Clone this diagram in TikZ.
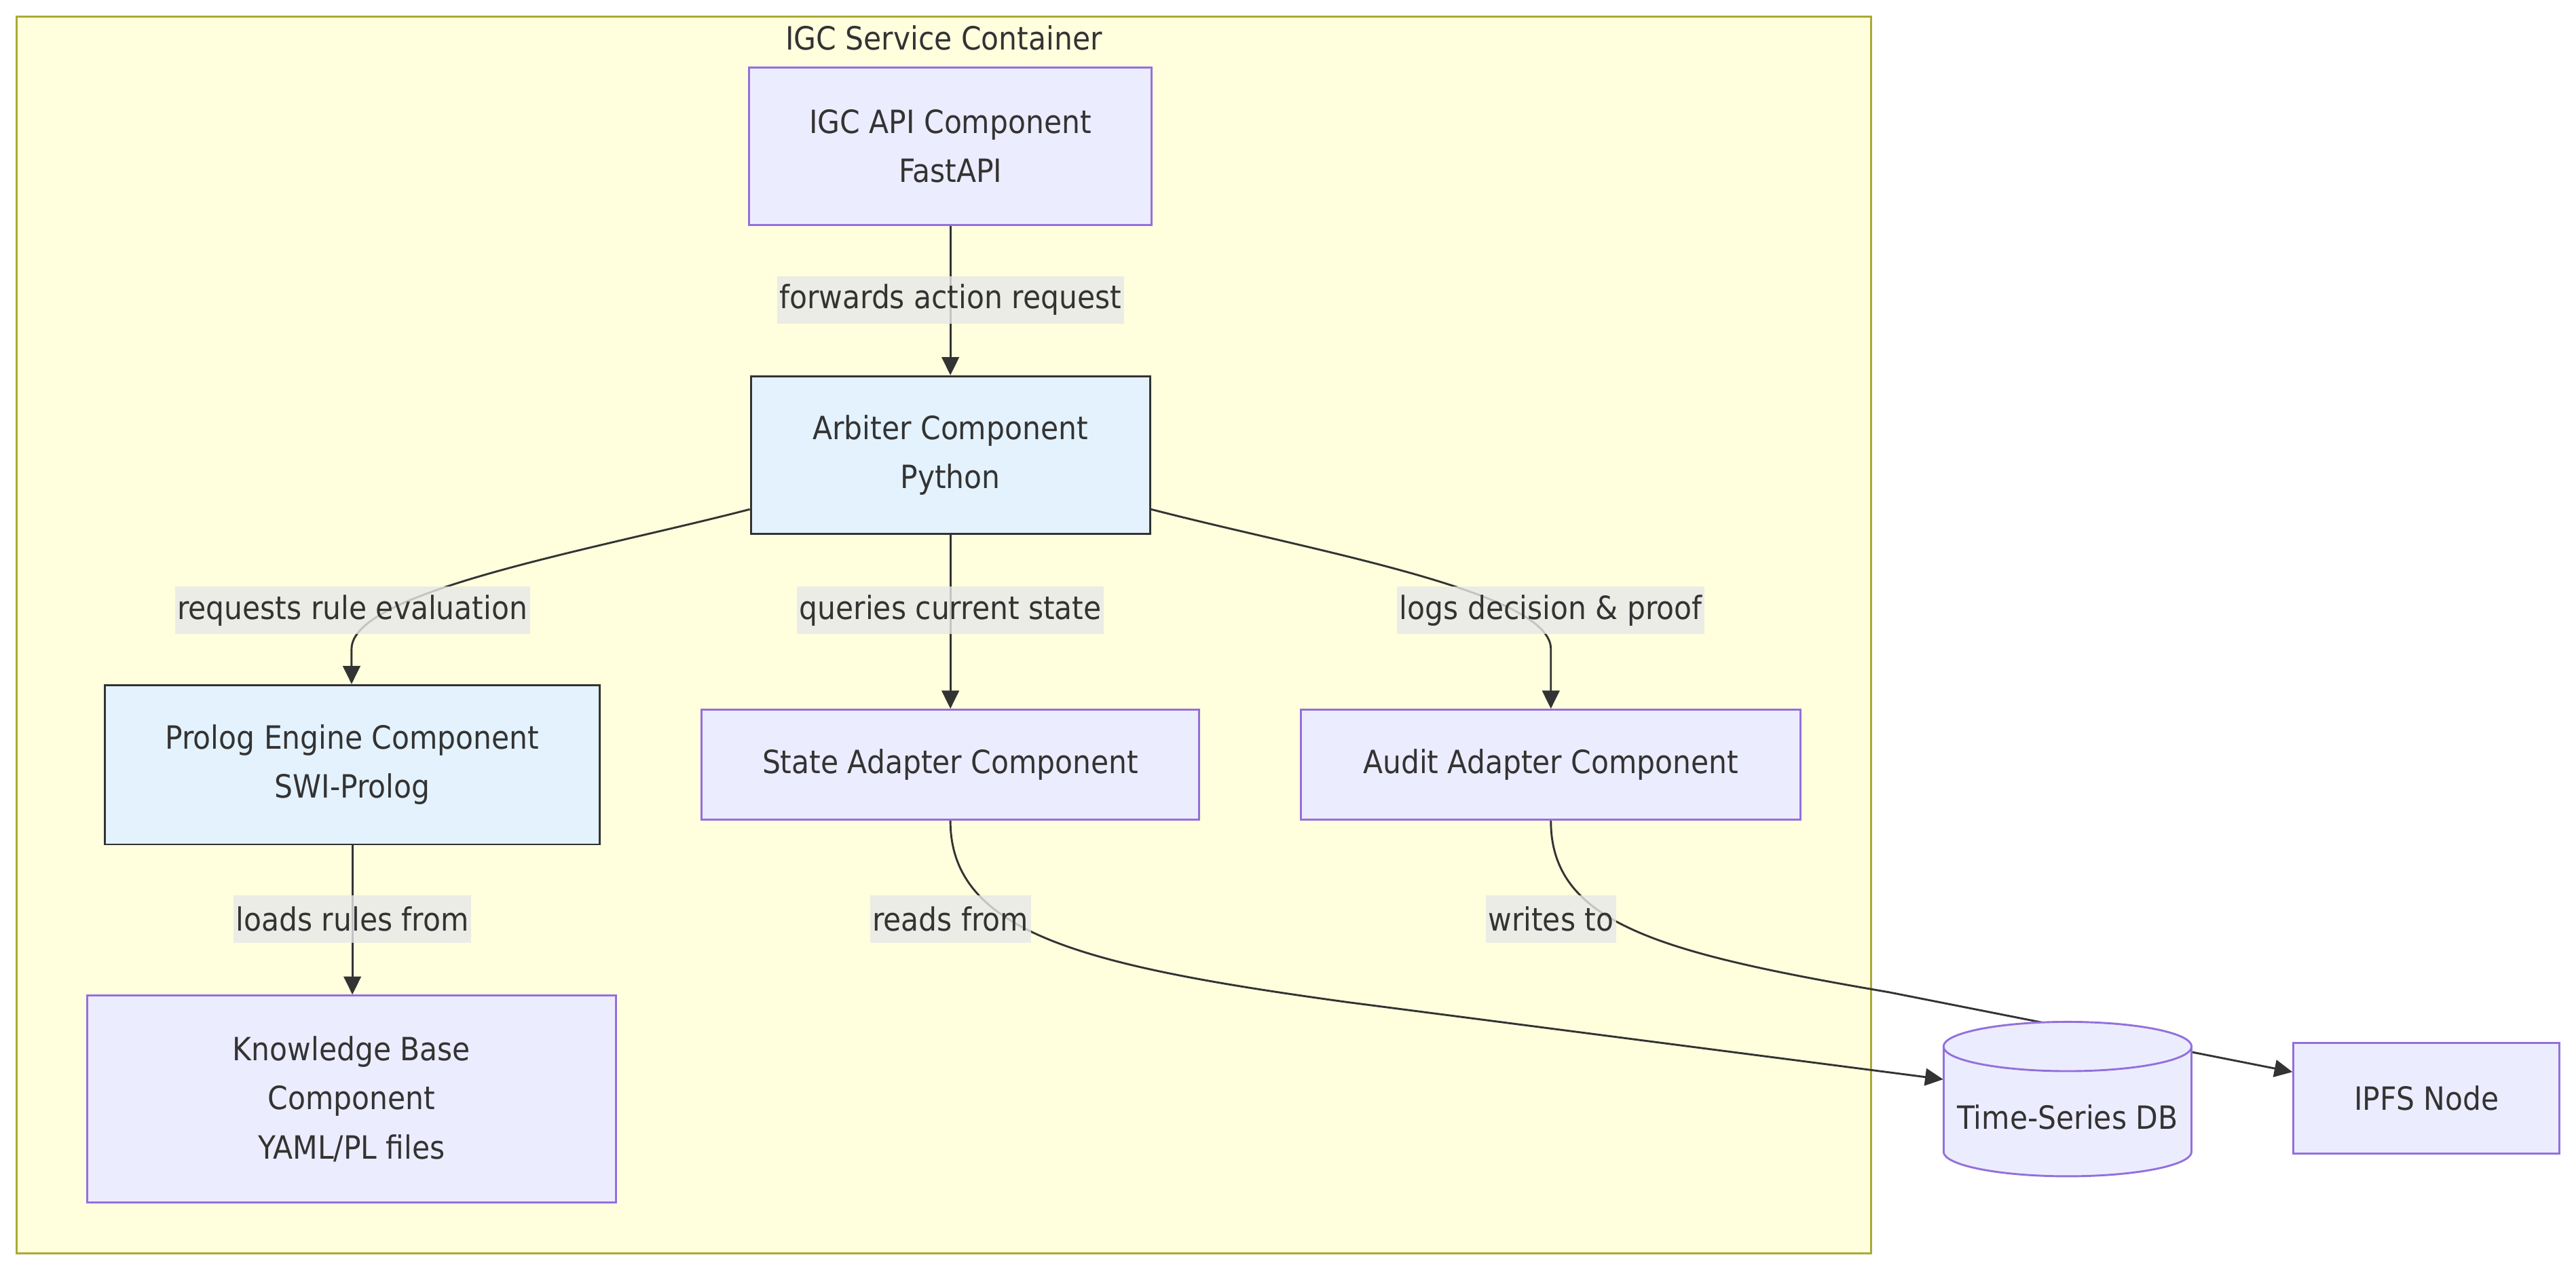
\documentclass[tikz,border=0pt]{standalone}
\usepackage{fontspec}
\setmainfont{DejaVu Sans Condensed}
\usetikzlibrary{arrows.meta,calc}
\definecolor{txt}{HTML}{333333}
\definecolor{nodefill}{HTML}{ECECFF}
\definecolor{nodestroke}{HTML}{9370DB}
\definecolor{bluefill}{HTML}{E3F2FD}
\definecolor{contfill}{HTML}{FFFFDE}
\definecolor{contstroke}{HTML}{AAAA33}
\definecolor{lblbg}{HTML}{E8E8E8}
\pgfdeclarelayer{bg}
\pgfdeclarelayer{edges}
\pgfsetlayers{bg,edges,main}
\begin{document}
\begin{tikzpicture}[x=1pt,y=-1pt,
  every node/.style={font=\fontsize{19.5}{30}\selectfont, text=txt},
  box/.style={draw=nodestroke, fill=nodefill, line width=1.2pt, align=center, inner sep=0pt},
  bluebox/.style={draw=txt, fill=bluefill, line width=1.2pt, align=center, inner sep=0pt},
  lbl/.style={fill=lblbg, fill opacity=0.8, text opacity=1, inner xsep=1.5pt, inner ysep=0pt, minimum height=29pt},
  conn/.style={draw=txt, line width=1.2pt, -{Triangle[length=11pt,width=10.5pt]}},
  cyl/.style={draw=nodestroke, line width=1.2pt}
]
\useasboundingbox (0,0) rectangle (1568,773);
\begin{pgfonlayer}{bg}
\fill[white] (0,0) rectangle (1568,773);
\node[draw=contstroke, fill=contfill, line width=1.2pt, minimum width=1129pt, minimum height=753pt, inner sep=0pt] (cont) at (574.5,386.5) {};
\end{pgfonlayer}
\node (title) at (574.5,23) {IGC Service Container};

\node[box, minimum width=245pt, minimum height=96pt] (api) at (578.5,89) {IGC API Component\\FastAPI};
\node[bluebox, minimum width=243pt, minimum height=96pt] (arb) at (578.5,277) {Arbiter Component\\Python};
\node[bluebox, minimum width=301pt, minimum height=97pt] (prolog) at (214.5,465.5) {Prolog Engine Component\\SWI-Prolog};
\node[box, minimum width=303pt, minimum height=67pt] (state) at (578.5,465.5) {State Adapter Component};
\node[box, minimum width=304pt, minimum height=67pt] (audit) at (944,465.5) {Audit Adapter Component};
\node[box, minimum width=322pt, minimum height=126pt] (kb) at (214,669) {Knowledge Base\\Component\\YAML/PL files};
\node[box, minimum width=162pt, minimum height=67pt] (ipfs) at (1477,668.5) {IPFS Node};

% cylinder (Time-Series DB)
\fill[nodefill] (1183,637) rectangle (1334,701);
\fill[nodefill] (1258.5,701) ellipse [x radius=75.5, y radius=15];
\begin{scope}
\clip (1170,701) rectangle (1350,725);
\draw[cyl] (1258.5,701) ellipse [x radius=75.5, y radius=15];
\end{scope}
\draw[cyl] (1183,637) -- (1183,701) (1334,637) -- (1334,701);
\filldraw[cyl, fill=nodefill] (1258.5,637) ellipse [x radius=75.5, y radius=15];
\node[minimum width=151pt, minimum height=94pt, inner sep=0pt] (tsdb) at (1258.5,669) {};
\node at (1258.5,680) {Time-Series DB};

% edge labels
\node[lbl] (l1) at (578.5,182.5) {forwards action request};
\node[lbl] (l2) at (214.5,371.5) {requests rule evaluation};
\node[lbl] (l3) at (578.5,371.5) {queries current state};
\node[lbl] (l4) at (944,371.5) {logs decision \& proof};
\node[lbl] (l5) at (214.5,559.5) {loads rules from};
\node[lbl] (l6) at (578.5,559.5) {reads from};
\node[lbl] (l7) at (944,559.5) {writes to};

\begin{pgfonlayer}{edges}
\draw[conn] (api.south) -- (arb.north);
\draw[conn] ($(arb.west)+(0,33)$) .. controls (360,335) and (214,360) .. (214,395) -- (prolog.north -| 214,0);
\draw[conn] (arb.south) -- (state.north);
\draw[conn] ($(arb.east)+(0,33)$) .. controls (797,335) and (944,360) .. (944,395) -- (audit.north);
\draw[conn] (prolog.south) -- (kb.north -| prolog.south);
\draw[conn] (state.south) .. controls (578.5,568) and (660,588) .. (820,610) -- ($(tsdb.west)+(0,-12)$);
\draw[conn] (audit.south) .. controls (944,562) and (1010,580) .. (1150,604) -- ($(ipfs.west)+(0,-16)$);
\end{pgfonlayer}
\end{tikzpicture}
\end{document}
